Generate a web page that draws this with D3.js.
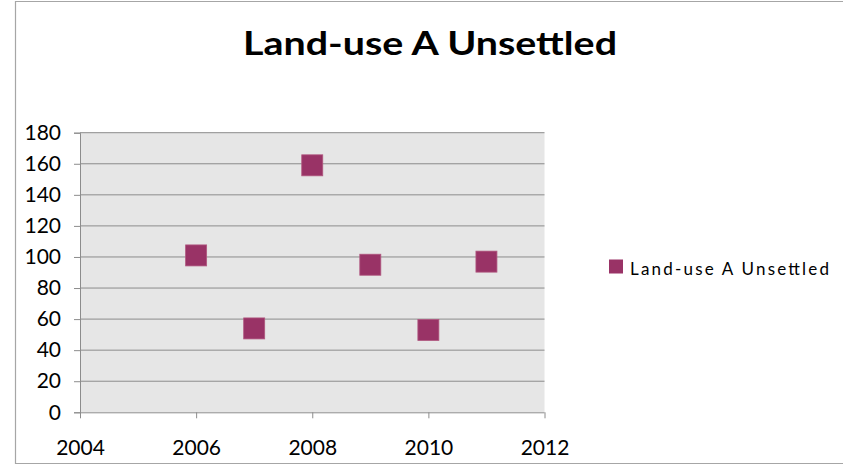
<!DOCTYPE html>
<html>
<head>
<meta charset="utf-8">
<script src="https://cdn.jsdelivr.net/npm/d3@7"></script>
<style>
  html, body { margin: 0; padding: 0; background: #fff; }
  svg { display: block; }
  text { font-family: Lato, "Liberation Sans", Arial, sans-serif; fill: #000; }
</style>
</head>
<body>
<svg id="chart" width="843" height="465"></svg>
<script>
const title = "Land-use A Unsettled";
const seriesName = "Land-use A Unsettled";
const years = [2006, 2007, 2008, 2009, 2010, 2011];
const values = [101, 54, 159, 95, 53, 97];
const xTicks = [2004, 2006, 2008, 2010, 2012];
const yTicks = [0, 20, 40, 60, 80, 100, 120, 140, 160, 180];

const svg = d3.select("#chart");
const W = 843, H = 465;
const plot = { left: 80, right: 544.5, top: 132.7, bottom: 412.3 };
const color = "#993366";
const font = "Lato, Liberation Sans, Arial, sans-serif";

// chart border
svg.append("path")
  .attr("d", `M${W + 5},1.5 H15.5 V463.5 H${W + 5}`)
  .attr("fill", "none")
  .attr("stroke", "#a6a6a6")
  .attr("stroke-width", 1.2);

const x = d3.scaleLinear().domain([2004, 2012]).range([plot.left, plot.right]);
const y = d3.scaleLinear().domain([0, 180]).range([plot.bottom, plot.top]);

// plot background
svg.append("rect")
  .attr("x", plot.left).attr("y", plot.top)
  .attr("width", plot.right - plot.left)
  .attr("height", plot.bottom - plot.top)
  .attr("fill", "#e6e6e6");

// gridlines
svg.append("g").selectAll("line")
  .data(yTicks.filter(d => d > 0))
  .join("line")
  .attr("x1", plot.left).attr("x2", plot.right)
  .attr("y1", d => y(d)).attr("y2", d => y(d))
  .attr("stroke", "#8c8c8c").attr("stroke-width", 1);

// y axis
const yAxis = svg.append("g")
  .attr("transform", `translate(${plot.left},0)`)
  .call(d3.axisLeft(y).tickValues(yTicks).tickSize(6).tickPadding(13).tickFormat(d3.format("d")));
yAxis.selectAll("path, line").attr("stroke", "#8c8c8c");
yAxis.selectAll("text").attr("font-size", 21).attr("font-family", font).attr("fill", "#000");

// x axis
const xAxis = svg.append("g")
  .attr("transform", `translate(0,${plot.bottom})`)
  .call(d3.axisBottom(x).tickValues(xTicks).tickSize(6).tickPadding(22).tickFormat(d3.format("d")));
xAxis.select("path.domain").attr("d", `M${plot.left},0.5H${plot.right}`);
xAxis.selectAll("path, line").attr("stroke", "#8c8c8c");
xAxis.selectAll("text").attr("font-size", 21).attr("font-family", font).attr("fill", "#000");

// markers
const ms = 21;
svg.append("g").selectAll("rect")
  .data(years.map((yr, i) => ({ yr, v: values[i] })))
  .join("rect")
  .attr("x", d => x(d.yr) - ms / 2)
  .attr("y", d => y(d.v) - ms / 2)
  .attr("width", ms).attr("height", ms)
  .attr("fill", color)
  .attr("stroke", "#b0577f").attr("stroke-width", 0.8);

// title
svg.append("text")
  .attr("x", 430).attr("y", 55)
  .attr("text-anchor", "middle")
  .attr("font-size", 33).attr("font-weight", "bold")
  .attr("textLength", 374).attr("lengthAdjust", "spacingAndGlyphs")
  .text(title);

// legend
svg.append("rect")
  .attr("x", 609).attr("y", 259.5)
  .attr("width", 14).attr("height", 14)
  .attr("fill", color);
svg.append("text")
  .attr("x", 630).attr("y", 275.3)
  .attr("font-size", 17)
  .attr("textLength", 199).attr("lengthAdjust", "spacing")
  .text(seriesName);
</script>
</body>
</html>
